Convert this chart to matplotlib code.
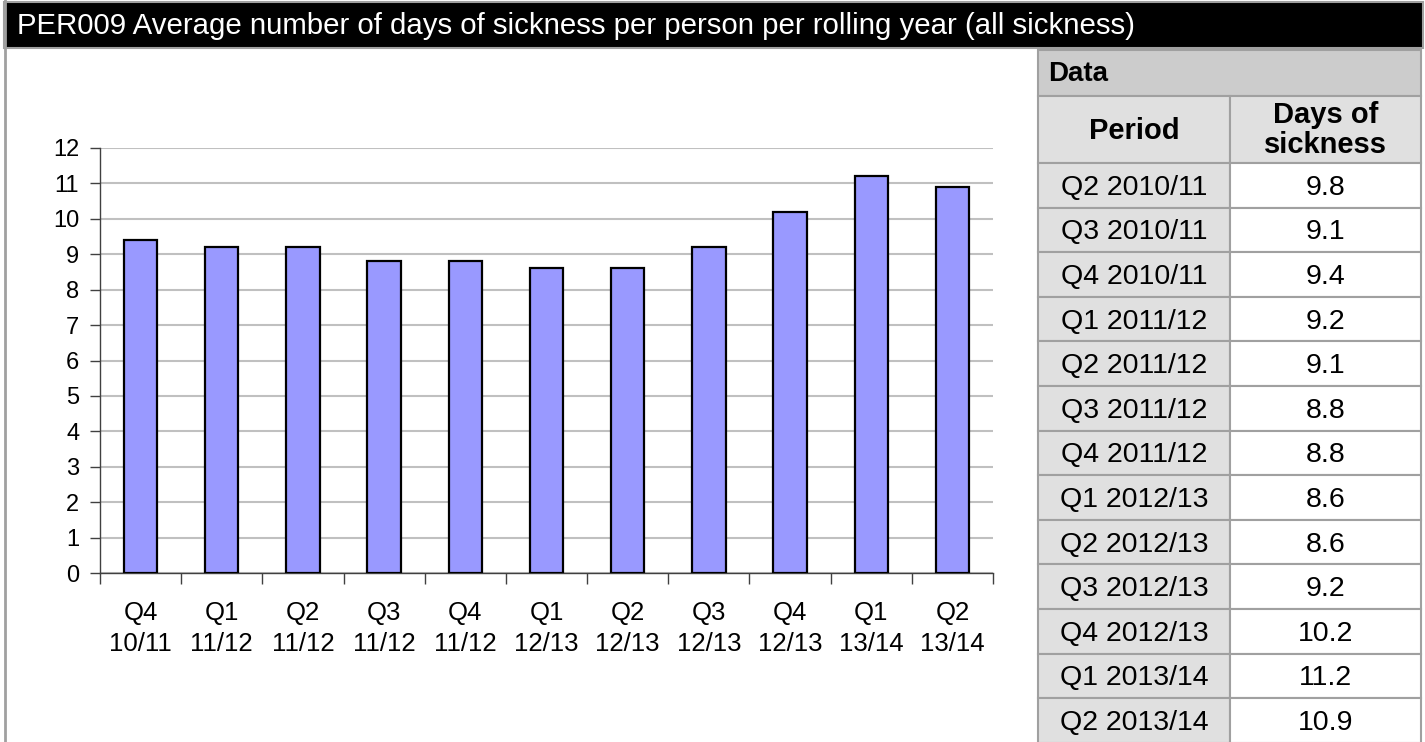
import matplotlib.pyplot as plt
import matplotlib.patches as mpatches
from matplotlib.lines import Line2D

plt.rcParams['font.family'] = ['Liberation Sans', 'DejaVu Sans']

title = "PER009 Average number of days of sickness per person per rolling year (all sickness)"

bar_labels = ["Q4\n10/11", "Q1\n11/12", "Q2\n11/12", "Q3\n11/12", "Q4\n11/12", "Q1\n12/13",
              "Q2\n12/13", "Q3\n12/13", "Q4\n12/13", "Q1\n13/14", "Q2\n13/14"]
bar_values = [9.4, 9.2, 9.2, 8.8, 8.8, 8.6, 8.6, 9.2, 10.2, 11.2, 10.9]

table_periods = ["Q2 2010/11", "Q3 2010/11", "Q4 2010/11", "Q1 2011/12", "Q2 2011/12",
                 "Q3 2011/12", "Q4 2011/12", "Q1 2012/13", "Q2 2012/13", "Q3 2012/13",
                 "Q4 2012/13", "Q1 2013/14", "Q2 2013/14"]
table_values = [9.8, 9.1, 9.4, 9.2, 9.1, 8.8, 8.8, 8.6, 8.6, 9.2, 10.2, 11.2, 10.9]

W, H = 1425, 742
fig = plt.figure(figsize=(W / 100, H / 100), dpi=100)
border = '#a0a0a0'


def fx(x):
    return x / W


def fy(y):
    return 1 - y / H


def box(x0, y0, x1, y1, face, edge=border, lw=1.5):
    fig.patches.append(mpatches.Rectangle((fx(x0), fy(y1)), fx(x1) - fx(x0), fy(y0) - fy(y1),
                                          transform=fig.transFigure, facecolor=face,
                                          edgecolor=edge, linewidth=lw, zorder=1))


# outer frame line on the left and title bar
fig.lines.append(Line2D([fx(5), fx(5)], [fy(0), fy(742)], transform=fig.transFigure,
                        color=border, linewidth=2))
box(4, 2, 1423, 48, 'black', edge=border, lw=1.5)
fig.text(fx(17), fy(26), title, color='white', fontsize=21.2, ha='left', va='center')

# bar chart
ax = fig.add_axes([fx(100), fy(573), fx(993) - fx(100), fy(148) - fy(573)])
x = range(len(bar_values))
ax.bar(x, bar_values, width=0.41, color='#9999ff', edgecolor='black', linewidth=1.6, zorder=3)
ax.set_xlim(-0.5, len(bar_values) - 0.5)
ax.set_ylim(0, 12)
ax.set_yticks(range(0, 13))
ax.set_xticks(list(x))
ax.set_xticklabels(bar_labels, linespacing=1.38)
ax.set_xticks([i - 0.5 for i in range(len(bar_values) + 1)], minor=True)
ax.tick_params(axis='x', which='major', length=0, pad=20, labelsize=18.5)
ax.tick_params(axis='x', which='minor', length=8, width=1, color='#404040', direction='out')
ax.tick_params(axis='y', length=7, width=1, color='#404040', pad=8, labelsize=17)
ax.yaxis.grid(True, color='#c0c0c0', linewidth=1.5, zorder=0)
ax.set_axisbelow(True)
for s in ['top', 'right']:
    ax.spines[s].set_visible(False)
for s in ['left', 'bottom']:
    ax.spines[s].set_color('#404040')
    ax.spines[s].set_linewidth(1)

# data table on the right
tx0, tmid, tx1 = 1038, 1230, 1421
box(tx0, 50, tx1, 96, '#cccccc')
fig.text(fx(1048), fy(74), "Data", fontsize=20, fontweight='bold', ha='left', va='center')
box(tx0, 96, tmid, 163, '#e0e0e0')
box(tmid, 96, tx1, 163, '#e0e0e0')
fig.text(fx((tx0 + tmid) / 2), fy(131), "Period", fontsize=21, fontweight='bold',
         ha='center', va='center')
fig.text(fx((tmid + tx1) / 2), fy(130), "Days of\nsickness", fontsize=21, fontweight='bold',
         ha='center', va='center', linespacing=1.05)
row_h = 44.6
for i, (p, v) in enumerate(zip(table_periods, table_values)):
    y0 = 163 + i * row_h
    box(tx0, y0, tmid, y0 + row_h, '#e0e0e0')
    box(tmid, y0, tx1, y0 + row_h, 'white')
    fig.text(fx((tx0 + tmid) / 2), fy(y0 + row_h / 2 + 2.5), p, fontsize=20.5,
             ha='center', va='center')
    fig.text(fx((tmid + tx1) / 2), fy(y0 + row_h / 2 + 2.5), f"{v:.1f}", fontsize=20.5,
             ha='center', va='center')

fig.savefig("out.png", dpi=100)
